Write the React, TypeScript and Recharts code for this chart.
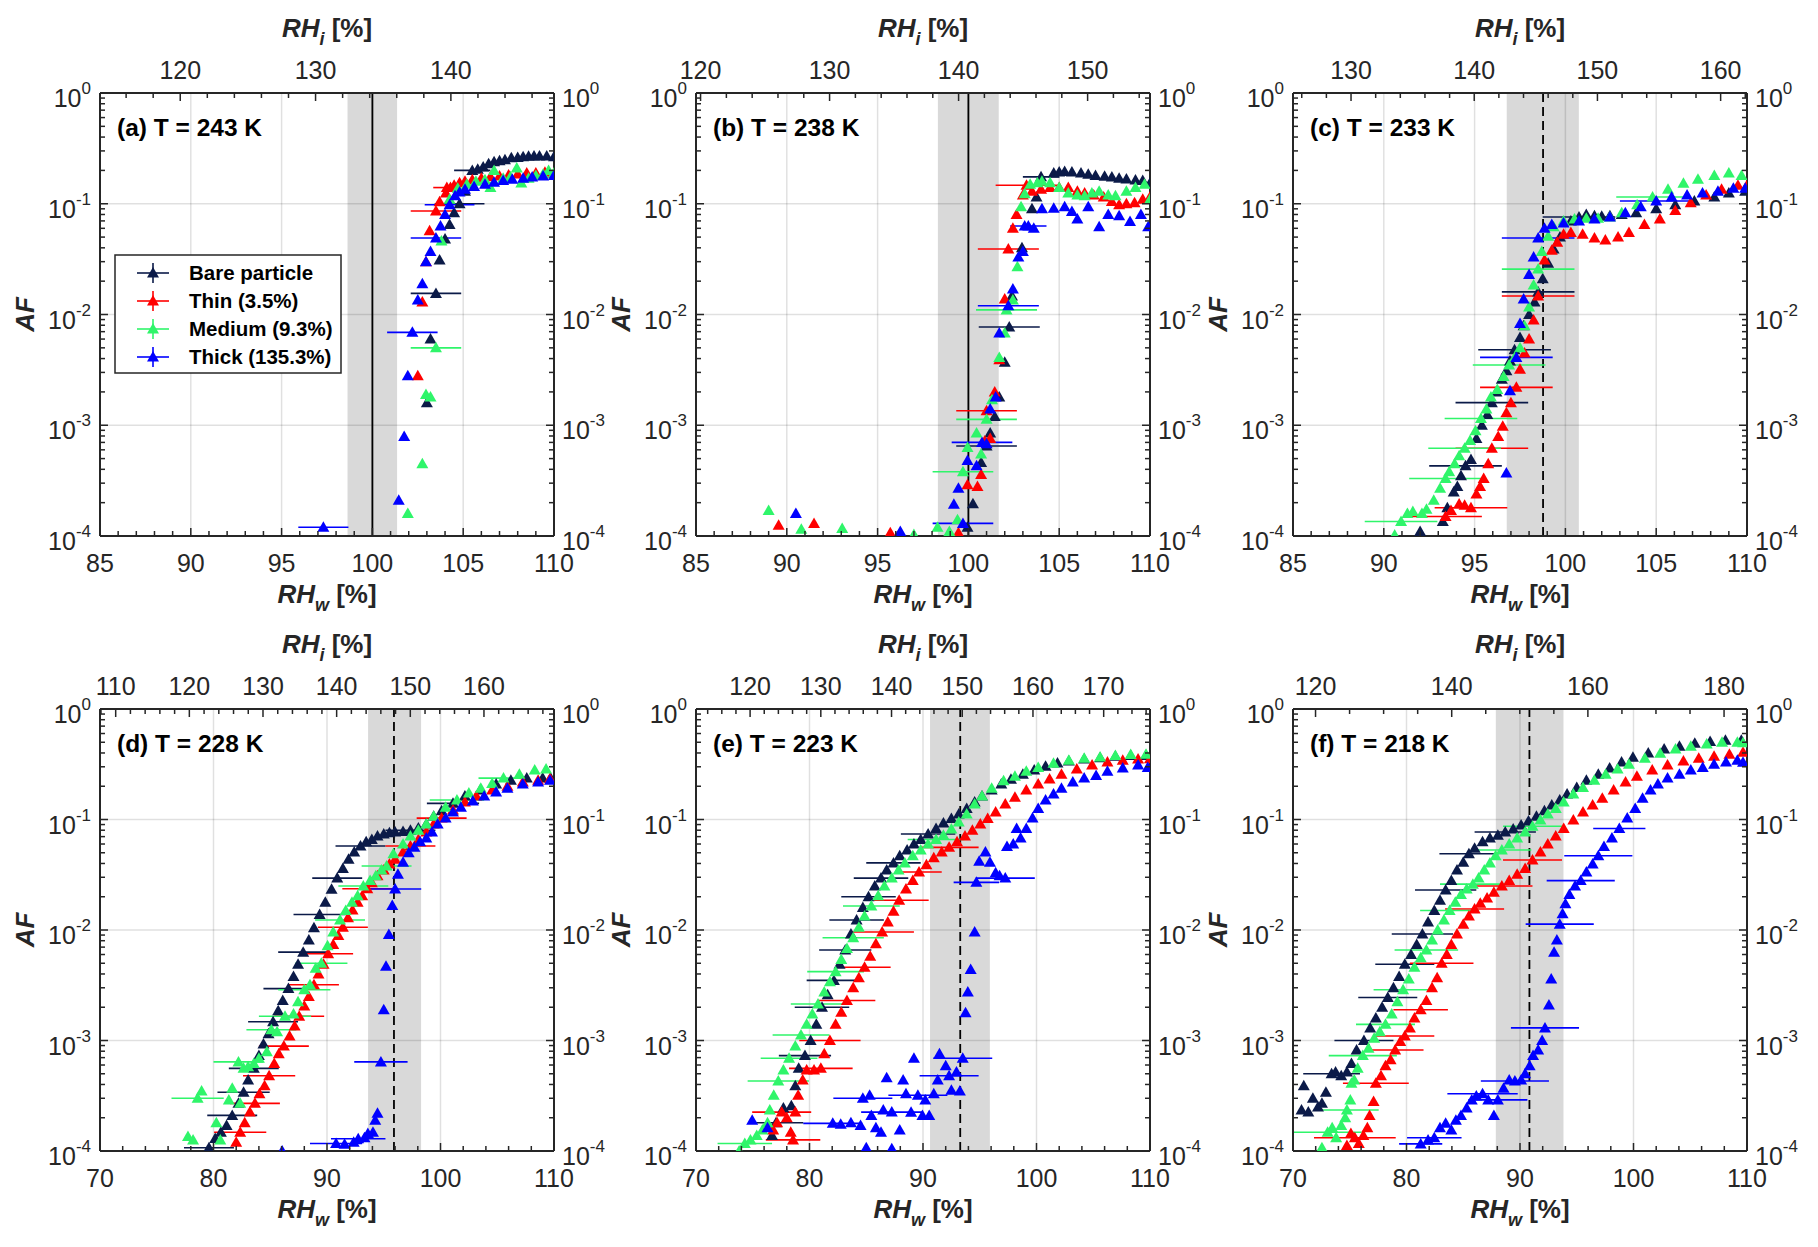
import React from "react";
import {
  ScatterChart,
  Scatter,
  XAxis,
  YAxis,
  ErrorBar,
  ReferenceArea,
  ReferenceLine,
} from "recharts";

type Pt = [number, number, number?];

// ---- series metadata ----
const seriesNames = ["Bare particle", "Thin (3.5%)", "Medium (9.3%)", "Thick (135.3%)"];
const seriesColors = ["#0b1a48", "#ff0000", "#2ff56a", "#0000ff"];

// ---- per panel settings ----
const panelLabels = [
  "(a) T = 243 K",
  "(b) T = 238 K",
  "(c) T = 233 K",
  "(d) T = 228 K",
  "(e) T = 223 K",
  "(f) T = 218 K",
];
const rhwDomains = [
  [85, 110],
  [85, 110],
  [85, 110],
  [70, 110],
  [70, 110],
  [70, 110],
];
// RH_i / RH_w at each temperature (top axis)
const iceRatios = [1.342, 1.4076, 1.474, 1.541, 1.605, 1.667];
const rhwMinorStep = [1, 1, 1, 2, 2, 2];
const rhwMajorStep = [5, 5, 5, 10, 10, 10];
const rhiMinorStep = [2, 2, 2, 2, 2, 5];
const rhiMajorStep = [10, 10, 10, 10, 10, 20];
const shadeRanges = [
  [98.63, 101.36],
  [98.32, 101.67],
  [96.77, 100.74],
  [93.62, 98.29],
  [90.62, 95.89],
  [87.87, 93.83],
];
const onsetLines = [100, 100, 98.77, 95.9, 93.28, 90.83];
const onsetDashed = [false, false, true, true, true, true];
const afDecades = [1e-4, 1e-3, 1e-2, 1e-1, 1];

// ---- data: [RH_w, AF, xerr] ----
const bareA: Pt[] = [
  [103.0, 1.6e-3], [103.2, 6e-3], [103.5, 0.0155, 1.39], [103.7, 0.031], [104.0, 0.048],
  [104.25, 0.065], [104.5, 0.083], [104.8, 0.1, 1.37], [105.1, 0.13], [105.5, 0.2, 1.0],
  [105.8, 0.205], [106.1, 0.215], [106.4, 0.23], [106.7, 0.24], [107.0, 0.245], [107.3, 0.25],
  [107.65, 0.26], [108.0, 0.262], [108.3, 0.266], [108.6, 0.268], [108.9, 0.27], [109.2, 0.27],
  [109.6, 0.27], [110.0, 0.266],
];
const thinA: Pt[] = [
  [102.5, 2.8e-3], [102.75, 0.013], [102.95, 0.03], [103.15, 0.057], [103.5, 0.086, 1.39],
  [103.7, 0.104], [104.1, 0.14, 0.75], [104.05, 0.125], [104.3, 0.14], [104.5, 0.147],
  [104.8, 0.155], [105.1, 0.16], [105.5, 0.165], [106.0, 0.17], [106.5, 0.175], [107.0, 0.178],
  [107.5, 0.182], [108.0, 0.186], [108.5, 0.19], [109.0, 0.19], [109.5, 0.192], [110.0, 0.188],
];
const medA: Pt[] = [
  [101.95, 1.6e-4], [102.75, 4.5e-4], [102.95, 1.9e-3], [103.2, 1.8e-3], [103.5, 5e-3, 1.39],
  [103.8, 0.046], [104.25, 0.11], [104.7, 0.138], [105.2, 0.15], [105.7, 0.16], [106.2, 0.165],
  [106.5, 0.14], [106.7, 0.2], [107.2, 0.17], [107.6, 0.175], [107.95, 0.21], [108.2, 0.154],
  [108.6, 0.17], [109.0, 0.18], [109.4, 0.185], [109.7, 0.2], [110.0, 0.19],
];
const thickA: Pt[] = [
  [97.3, 1.2e-4, 1.38], [101.45, 2.1e-4], [101.75, 7.9e-4], [101.95, 2.8e-3], [102.2, 6.9e-3, 1.39],
  [102.5, 0.0135], [102.75, 0.019], [102.95, 0.03], [103.2, 0.037], [103.5, 0.049, 1.39],
  [103.75, 0.063], [104.0, 0.08], [104.25, 0.098, 1.37], [104.55, 0.118], [104.8, 0.128],
  [105.1, 0.135], [105.6, 0.143], [106.2, 0.15], [106.7, 0.156], [107.2, 0.162], [107.7, 0.166],
  [108.3, 0.17], [108.8, 0.174], [109.4, 0.178], [110.0, 0.18],
];

const bareB: Pt[] = [
  [99.95, 1.2e-4], [100.25, 1.96e-4], [100.7, 4.6e-4], [101.0, 6.5e-4, 1.67], [101.2, 8.5e-4],
  [101.45, 1.2e-3], [101.7, 1.8e-3], [102.0, 3.7e-3], [102.25, 7.7e-3, 1.68], [102.4, 0.0147],
  [102.95, 0.04], [103.5, 0.09], [103.75, 0.115], [104.0, 0.175, 1.0], [104.7, 0.19],
  [105.0, 0.193], [105.3, 0.196], [105.7, 0.193], [106.2, 0.19], [106.6, 0.185], [107.0, 0.18],
  [107.5, 0.177], [107.9, 0.174], [108.3, 0.17], [108.7, 0.167], [109.2, 0.164], [109.6, 0.162],
  [110.0, 0.154],
];
const thinB: Pt[] = [
  [89.55, 1.25e-4], [91.5, 1.3e-4], [95.7, 1.07e-4], [99.45, 1.07e-4], [99.95, 2.9e-4],
  [100.5, 2.8e-4], [100.7, 3.6e-4], [100.9, 7.2e-4], [101.0, 1.35e-3, 1.67], [101.2, 7.6e-4],
  [101.45, 2e-3], [101.7, 3.9e-3], [102.0, 0.0138], [102.2, 0.039, 1.68], [102.45, 0.06],
  [102.65, 0.08], [103.0, 0.12], [103.2, 0.147, 1.7], [103.5, 0.13], [104.0, 0.135], [104.5, 0.14],
  [105.0, 0.14], [105.5, 0.14], [106.0, 0.13], [106.4, 0.125], [106.9, 0.12], [107.45, 0.115],
  [107.9, 0.105], [108.3, 0.098], [108.7, 0.1], [109.15, 0.102], [109.6, 0.11], [110.0, 0.115],
];
const medB: Pt[] = [
  [89.0, 1.7e-4], [90.8, 1.15e-4], [93.05, 1.17e-4], [97.0, 1.03e-4], [98.3, 1.2e-4],
  [98.95, 1.1e-4], [99.4, 1.4e-4], [99.7, 3.8e-4, 1.67], [99.95, 6.3e-4], [100.45, 8.5e-4],
  [100.7, 5.5e-4], [101.0, 1.13e-3, 1.67], [101.3, 1.7e-3], [101.7, 4.1e-3], [102.0, 6.8e-3],
  [102.1, 0.011, 1.68], [102.45, 0.0135], [102.7, 0.027], [102.9, 0.094], [103.1, 0.123],
  [103.4, 0.15], [103.8, 0.155], [104.05, 0.16], [104.5, 0.155], [105.0, 0.14], [105.5, 0.125],
  [106.0, 0.12], [106.4, 0.118], [106.8, 0.125], [107.2, 0.13], [107.7, 0.12], [108.1, 0.118],
  [108.7, 0.13], [109.2, 0.14], [109.7, 0.15], [110.0, 0.11],
];
const thickB: Pt[] = [
  [90.5, 1.6e-4], [96.25, 1.1e-4], [99.2, 1.94e-4], [99.45, 2.7e-4], [99.7, 1.3e-4, 1.67],
  [99.95, 4.8e-4], [100.45, 4.3e-4], [100.75, 7e-4, 1.67], [101.0, 6.8e-4], [101.2, 1.4e-3],
  [101.5, 1.8e-3], [101.7, 6.8e-3], [102.2, 0.012, 1.68], [102.45, 0.017], [102.75, 0.033],
  [103.0, 0.037], [103.1, 0.063], [103.3, 0.063, 1.0], [103.6, 0.06], [104.05, 0.09],
  [104.7, 0.091], [105.3, 0.094], [105.7, 0.085], [106.0, 0.073], [106.6, 0.094], [107.2, 0.062],
  [107.7, 0.08], [108.3, 0.078], [108.9, 0.069], [109.5, 0.08], [109.9, 0.062],
];

const bareC: Pt[] = [
  [92.0, 1.1e-4], [93.25, 1.35e-4], [93.5, 1.8e-4], [93.85, 2.5e-4], [94.05, 2.8e-4],
  [94.25, 3.5e-4], [94.5, 4.3e-4, 2.0], [94.8, 4.9e-4], [95.1, 7.6e-4], [95.4, 1e-3],
  [95.7, 1.25e-3], [95.95, 1.6e-3, 2.0], [96.2, 2e-3], [96.5, 2.6e-3], [96.75, 3.1e-3],
  [96.95, 3.8e-3], [97.2, 4.8e-3, 2.0], [97.5, 6.2e-3], [97.7, 7.9e-3], [98.0, 0.01],
  [98.3, 0.013], [98.5, 0.016, 2.0], [98.75, 0.021], [99.05, 0.029], [99.35, 0.039], [99.7, 0.05],
  [100.3, 0.07], [100.75, 0.076, 2.0], [101.15, 0.08], [101.6, 0.078], [102.0, 0.077],
  [102.45, 0.078], [103.1, 0.08], [103.9, 0.083], [105.0, 0.09], [106.05, 0.098], [107.1, 0.106],
  [108.2, 0.115], [109.0, 0.125], [109.9, 0.13],
];
const thinC: Pt[] = [
  [93.4, 1.5e-4, 2.0], [93.7, 1.7e-4], [94.15, 1.95e-4], [94.45, 1.9e-4], [94.8, 1.8e-4, 2.0],
  [95.1, 2.4e-4], [95.3, 2.8e-4], [95.5, 3.3e-4], [95.75, 4.5e-4], [95.95, 6.2e-4, 2.0],
  [96.3, 7.9e-4], [96.55, 9.8e-4], [96.75, 1.3e-3], [97.0, 1.6e-3], [97.3, 2.2e-3, 2.0],
  [97.5, 3.2e-3], [97.75, 4.5e-3], [98.0, 6e-3], [98.25, 8.9e-3], [98.5, 0.0147, 2.0],
  [98.85, 0.031], [99.25, 0.038], [99.55, 0.045], [99.9, 0.053], [100.3, 0.055], [100.95, 0.053],
  [101.6, 0.049], [102.2, 0.047], [102.9, 0.05], [103.5, 0.055], [104.35, 0.065], [105.2, 0.073],
  [106.05, 0.087], [106.9, 0.102], [107.75, 0.12], [108.6, 0.135], [109.5, 0.147], [110.0, 0.147],
];
const medC: Pt[] = [
  [90.6, 1.02e-4], [90.95, 1.35e-4, 2.0], [91.3, 1.6e-4], [91.6, 1.66e-4], [92.1, 1.6e-4],
  [92.35, 1.74e-4], [92.75, 2.1e-4], [93.1, 2.7e-4], [93.4, 3.3e-4, 2.0], [93.6, 3.8e-4],
  [93.9, 4.5e-4], [94.15, 5.3e-4], [94.45, 6.2e-4, 2.0], [94.75, 7.3e-4], [95.05, 8.9e-4],
  [95.35, 1.15e-3, 2.0], [95.65, 1.4e-3], [95.9, 1.8e-3], [96.25, 2.1e-3], [96.6, 2.75e-3],
  [96.9, 3.5e-3, 2.0], [97.2, 4.1e-3], [97.5, 5e-3], [97.75, 7.9e-3], [98.0, 0.0117],
  [98.25, 0.0185], [98.5, 0.0257, 2.0], [98.7, 0.037], [99.05, 0.051], [99.35, 0.062],
  [99.9, 0.07], [100.5, 0.073], [101.15, 0.074], [101.8, 0.074], [102.45, 0.076], [103.1, 0.083],
  [103.95, 0.098], [104.8, 0.115, 2.0], [105.65, 0.135], [106.5, 0.153], [107.3, 0.166],
  [108.2, 0.18], [109.0, 0.19], [109.7, 0.18],
];
const thickC: Pt[] = [
  [96.75, 3.7e-4], [96.95, 2.05e-3], [97.3, 4.1e-3, 2.0], [97.5, 8.3e-3], [97.7, 0.0138],
  [98.0, 0.023], [98.25, 0.033], [98.5, 0.049, 2.0], [98.85, 0.06], [99.25, 0.065], [99.9, 0.067],
  [100.75, 0.07], [101.6, 0.073], [102.45, 0.076], [103.3, 0.083], [104.15, 0.094],
  [105.0, 0.106, 2.0], [105.85, 0.115], [106.7, 0.12], [107.55, 0.125], [108.4, 0.13],
  [109.25, 0.138], [109.9, 0.138],
];

const bareD: Pt[] = [
  [79.6, 1.07e-4, 2.2], [80.15, 1.3e-4], [80.65, 1.48e-4], [81.15, 1.7e-4], [81.65, 2.1e-4, 2.2],
  [82.2, 2.7e-4], [82.65, 3.4e-4, 2.3], [83.05, 4.4e-4], [83.55, 5.6e-4, 2.2], [84.0, 7.3e-4],
  [84.4, 9.3e-4], [84.85, 1.15e-3], [85.25, 1.48e-3, 2.2], [85.7, 1.86e-3], [86.1, 2.3e-3],
  [86.6, 2.95e-3, 2.2], [87.05, 3.8e-3], [87.45, 4.9e-3], [87.9, 6.3e-3, 2.2], [88.4, 8.1e-3],
  [88.85, 0.0105], [89.35, 0.0138, 2.3], [89.85, 0.0178], [90.4, 0.0234], [90.9, 0.0295, 2.2],
  [91.4, 0.036], [91.9, 0.0437], [92.4, 0.0507], [92.95, 0.0575, 2.2], [93.45, 0.063],
  [93.95, 0.066], [94.45, 0.071], [95.0, 0.074], [95.5, 0.076], [96.0, 0.077], [96.7, 0.078],
  [97.35, 0.08, 2.2], [98.05, 0.0836], [98.75, 0.091], [99.4, 0.107], [100.1, 0.12],
  [101.1, 0.14, 2.3], [102.15, 0.163], [103.5, 0.185], [104.9, 0.209], [106.2, 0.227],
  [107.6, 0.237], [109.0, 0.237], [109.7, 0.237],
];
const thinD: Pt[] = [
  [82.0, 1.2e-4], [82.35, 1.48e-4, 2.3], [82.75, 1.8e-4], [83.2, 2.25e-4], [83.65, 2.7e-4, 2.2],
  [84.05, 3.3e-4], [84.5, 3.9e-4], [84.9, 4.8e-4, 2.3], [85.35, 6.2e-4], [85.75, 7.6e-4],
  [86.2, 8.9e-4, 2.2], [86.7, 1.1e-3], [87.15, 1.35e-3], [87.55, 1.66e-3, 2.2], [88.0, 2.05e-3],
  [88.4, 2.5e-3], [88.85, 3.2e-3, 2.2], [89.25, 4e-3], [89.7, 4.9e-3], [90.1, 6.1e-3, 2.2],
  [90.55, 7.4e-3], [91.0, 8.9e-3], [91.4, 0.0106, 2.2], [91.85, 0.0129], [92.25, 0.0152],
  [92.7, 0.0178], [93.1, 0.0204], [93.55, 0.0236, 2.2], [93.95, 0.0268], [94.45, 0.031],
  [95.0, 0.035], [95.5, 0.0396], [96.0, 0.0437], [96.7, 0.0507], [97.35, 0.0575, 2.2],
  [98.05, 0.066], [98.75, 0.077], [99.4, 0.091], [100.1, 0.103, 2.2], [101.1, 0.122],
  [102.15, 0.144], [103.15, 0.163], [104.55, 0.185], [105.9, 0.2], [107.25, 0.218],
  [108.6, 0.227], [109.65, 0.235],
];
const medD: Pt[] = [
  [77.75, 1.35e-4], [78.2, 1.26e-4], [78.6, 3e-4, 2.3], [78.95, 3.5e-4], [80.25, 1.8e-4],
  [80.6, 1.26e-4], [81.35, 2.9e-4], [81.65, 3.7e-4], [82.35, 2.7e-4], [82.2, 6.4e-4, 2.2],
  [82.65, 5.6e-4], [83.05, 5.8e-4], [83.55, 6.2e-4], [84.0, 6.9e-4], [84.7, 7.9e-4],
  [85.1, 1.25e-3, 2.2], [85.6, 1.2e-3], [86.3, 1.66e-3, 2.3], [87.05, 1.74e-3], [87.45, 2.24e-3],
  [88.0, 2.88e-3, 2.3], [88.5, 3.2e-3], [89.0, 4.5e-3], [89.5, 5e-3, 2.3], [90.05, 7.2e-3],
  [90.55, 9.6e-3], [91.15, 0.0123, 2.2], [91.65, 0.015], [92.2, 0.0178], [92.7, 0.0204],
  [93.2, 0.025, 2.2], [93.8, 0.028], [94.3, 0.031], [94.8, 0.035], [95.25, 0.038, 2.2],
  [95.85, 0.049], [96.7, 0.06], [97.35, 0.071], [98.05, 0.08], [98.75, 0.091], [99.4, 0.107],
  [100.45, 0.129], [101.45, 0.15, 2.4], [102.5, 0.174], [103.55, 0.192], [104.55, 0.212],
  [105.55, 0.237, 2.2], [106.95, 0.257], [108.3, 0.28], [109.3, 0.287],
];
const thickD: Pt[] = [
  [86.05, 1e-4, 2.3], [90.8, 1.17e-4, 2.3], [91.55, 1.15e-4], [92.35, 1.2e-4], [92.75, 1.29e-4, 2.4],
  [93.3, 1.32e-4], [93.6, 1.44e-4], [94.05, 1.48e-4], [94.25, 1.9e-4], [94.45, 2.2e-4],
  [94.75, 6.4e-4, 2.35], [95.0, 1.9e-3], [95.2, 4.7e-3], [95.45, 9.1e-3], [95.75, 0.0167],
  [96.0, 0.0235, 2.3], [96.25, 0.032], [96.7, 0.041], [97.2, 0.05], [97.7, 0.056], [98.2, 0.063],
  [98.75, 0.068], [99.25, 0.077], [99.75, 0.091], [100.45, 0.103], [101.1, 0.117], [101.8, 0.129],
  [102.85, 0.147], [103.85, 0.163], [104.9, 0.177], [105.9, 0.192], [107.25, 0.209],
  [108.6, 0.218], [109.65, 0.227],
];

const bareE: Pt[] = [
  [76.7, 1.38e-4], [77.05, 1.8e-4, 2.4], [77.7, 2.45e-4], [78.4, 2.57e-4], [78.75, 3.9e-4],
  [79.05, 5.6e-4], [79.6, 7.3e-4, 2.3], [80.1, 1e-3], [80.6, 1.4e-3], [81.1, 2e-3, 2.4],
  [81.6, 2.6e-3], [82.15, 3.5e-3, 2.4], [82.65, 4.9e-3], [83.15, 6.6e-3, 2.3], [83.65, 9.2e-3],
  [84.15, 0.0123, 2.4], [84.7, 0.016], [85.2, 0.02, 2.4], [85.75, 0.025], [86.3, 0.0295, 2.4],
  [86.8, 0.035], [87.4, 0.0405, 2.4], [87.95, 0.047], [88.6, 0.053], [89.2, 0.06], [89.8, 0.066],
  [90.45, 0.074, 2.4], [91.15, 0.083], [91.8, 0.093], [92.5, 0.102], [93.15, 0.112],
  [93.85, 0.126], [94.55, 0.144], [95.2, 0.163], [96.05, 0.185], [96.9, 0.209], [97.75, 0.231],
  [98.8, 0.257], [99.8, 0.28], [100.8, 0.304], [101.85, 0.324], [102.85, 0.339], [104.2, 0.353],
  [105.6, 0.363], [106.95, 0.374], [108.3, 0.38], [109.65, 0.38],
];
const thinE: Pt[] = [
  [76.8, 1.55e-4], [77.15, 1.8e-4], [77.55, 2.25e-4, 2.6], [78.0, 2e-4], [78.35, 1.48e-4],
  [78.55, 1.26e-4, 2.4], [78.75, 2.25e-4], [79.0, 3.2e-4], [79.4, 4.4e-4], [79.75, 5.4e-4],
  [80.4, 5.4e-4], [81.0, 5.6e-4, 2.8], [81.3, 7.6e-4], [81.8, 1e-3, 2.7], [82.3, 1.4e-3],
  [82.8, 1.8e-3], [83.3, 2.3e-3, 2.5], [83.85, 3e-3], [84.35, 3.7e-3], [84.85, 4.6e-3, 2.3],
  [85.35, 5.8e-3], [85.85, 7.5e-3], [86.4, 9.6e-3, 2.8], [86.9, 0.0118], [87.4, 0.0148],
  [87.9, 0.0186, 2.6], [88.5, 0.0235], [89.1, 0.028], [89.65, 0.0335, 2.0], [90.3, 0.039],
  [90.95, 0.045], [91.65, 0.0507], [92.3, 0.056, 2.6], [93.0, 0.063], [93.7, 0.071],
  [94.35, 0.08], [95.05, 0.091], [95.7, 0.102], [96.4, 0.117], [97.25, 0.138], [98.1, 0.159],
  [99.1, 0.185], [100.15, 0.209], [101.15, 0.233], [102.2, 0.257], [103.55, 0.287],
  [104.9, 0.312], [106.25, 0.331], [107.6, 0.344], [108.95, 0.353], [110.0, 0.355],
];
const medE: Pt[] = [
  [73.8, 1e-4], [74.3, 1.17e-4, 2.4], [74.8, 1.26e-4], [75.35, 1.38e-4], [75.85, 1.55e-4],
  [76.3, 1.8e-4], [76.5, 2.35e-4], [76.85, 3.2e-4], [77.25, 4.3e-4, 2.7], [77.7, 5.4e-4],
  [78.2, 6.9e-4, 2.5], [78.75, 8.9e-4], [79.25, 1.12e-3, 2.5], [79.75, 1.4e-3], [80.25, 1.74e-3],
  [80.75, 2.14e-3, 2.4], [81.3, 2.75e-3], [81.8, 3.4e-3], [82.3, 4.2e-3, 2.5], [82.8, 5.4e-3],
  [83.3, 6.8e-3], [83.85, 8.5e-3, 2.7], [84.35, 0.0106], [84.85, 0.0134], [85.45, 0.0165, 2.5],
  [86.05, 0.0204], [86.6, 0.025], [87.25, 0.0295], [87.85, 0.035], [88.4, 0.0405], [89.1, 0.047],
  [89.8, 0.053], [90.45, 0.06], [91.15, 0.066, 2.5], [91.8, 0.072], [92.5, 0.082], [93.15, 0.095],
  [93.85, 0.112], [94.55, 0.138], [95.2, 0.163], [96.05, 0.192], [97.1, 0.224], [98.1, 0.246],
  [99.1, 0.273], [100.15, 0.296], [101.5, 0.323], [102.85, 0.344], [104.2, 0.359],
  [105.6, 0.368], [106.95, 0.38], [108.3, 0.387], [109.65, 0.39],
];
const thickE: Pt[] = [
  [74.95, 1.9e-4], [76.3, 1.62e-4], [82.05, 1.78e-4, 2.6], [82.75, 1.75e-4], [83.65, 1.8e-4],
  [84.5, 1.7e-4], [84.7, 3e-4, 2.6], [85.3, 3.2e-4], [85.0, 1.07e-4], [85.45, 2.1e-4],
  [85.85, 1.62e-4], [86.3, 1.48e-4], [86.5, 2.35e-4], [86.8, 4.6e-4], [87.25, 2.25e-4, 2.7],
  [87.25, 1.05e-4], [87.95, 1.55e-4], [88.25, 4.4e-4], [88.5, 3.3e-4], [88.95, 2.24e-4],
  [89.2, 6.9e-4], [89.55, 3.2e-4, 2.6], [89.95, 2.1e-4], [90.2, 2.9e-4], [90.55, 2.1e-4],
  [90.95, 3.3e-4], [91.3, 4.4e-4], [91.45, 7.6e-4], [92.0, 5.9e-4], [92.3, 4.8e-4, 2.6],
  [92.5, 3.55e-4], [92.95, 5.2e-4], [93.25, 3.5e-4], [93.5, 6.9e-4, 2.6], [93.75, 1.78e-3],
  [93.95, 2.75e-3], [94.2, 4.4e-3], [94.55, 9.6e-3], [94.7, 0.027, 2.0], [94.95, 0.042],
  [95.5, 0.0507], [95.9, 0.041], [96.4, 0.033], [96.75, 0.031], [97.25, 0.0295, 2.6],
  [97.4, 0.057], [97.95, 0.06], [98.25, 0.083], [98.6, 0.068], [99.1, 0.083], [99.65, 0.103],
  [100.15, 0.126], [100.8, 0.15], [101.5, 0.17], [102.2, 0.192], [103.2, 0.218], [104.2, 0.237],
  [105.25, 0.25], [106.25, 0.273], [107.6, 0.292], [108.95, 0.312], [109.8, 0.296],
];

const bareF: Pt[] = [
  [70.75, 2.35e-4], [70.95, 3.9e-4], [71.35, 2.25e-4], [71.75, 3e-4], [72.2, 2.5e-4],
  [72.55, 2.7e-4], [72.9, 3.4e-4], [73.4, 5e-4, 2.5], [73.75, 5.2e-4], [74.25, 4.8e-4],
  [74.75, 5.2e-4], [75.15, 6.2e-4], [75.6, 8.2e-4], [76.25, 1e-3, 2.6], [76.8, 1.3e-3],
  [77.3, 1.6e-3], [77.85, 2e-3], [78.35, 2.45e-3, 2.6], [78.85, 3e-3], [79.35, 3.8e-3],
  [79.85, 4.9e-3, 2.6], [80.4, 6e-3], [80.9, 7.4e-3], [81.4, 9.2e-3, 2.7], [81.9, 0.0118],
  [82.45, 0.015], [82.95, 0.0186], [83.45, 0.023, 2.7], [83.95, 0.028], [84.45, 0.035],
  [85.0, 0.041], [85.5, 0.049, 2.6], [86.0, 0.055], [86.7, 0.063], [87.35, 0.068], [88.05, 0.072],
  [88.7, 0.077, 2.7], [89.4, 0.082], [90.1, 0.089], [90.75, 0.097], [91.45, 0.107], [92.15, 0.12],
  [92.8, 0.135], [93.5, 0.15], [94.15, 0.17], [95.0, 0.195], [95.85, 0.227], [96.9, 0.257],
  [97.9, 0.292], [98.95, 0.331], [99.95, 0.365], [101.3, 0.4], [102.7, 0.435], [104.05, 0.461],
  [105.4, 0.49], [106.75, 0.509], [108.1, 0.522], [109.5, 0.522],
];
const thinF: Pt[] = [
  [74.75, 1.12e-4], [75.1, 1.44e-4], [75.45, 1.32e-4, 3.6], [75.8, 1.17e-4], [76.2, 1.38e-4],
  [76.55, 1.62e-4], [76.75, 2.1e-4], [77.1, 2.8e-4], [77.3, 4.1e-4, 2.9], [77.75, 4.8e-4],
  [78.15, 5.9e-4], [78.6, 6.7e-4], [79.0, 8.2e-4, 2.5], [79.45, 9.8e-4], [79.85, 1.1e-3, 2.6],
  [80.3, 1.3e-3], [80.7, 1.6e-3], [81.25, 1.9e-3, 2.4], [81.75, 2.3e-3], [82.25, 3e-3],
  [82.7, 3.7e-3], [83.1, 5e-3, 2.8], [83.55, 6e-3], [83.95, 7.4e-3], [84.45, 9.2e-3],
  [85.0, 0.0113], [85.5, 0.0134], [86.0, 0.0155, 2.6], [86.5, 0.0175], [87.1, 0.0195],
  [87.7, 0.022], [88.4, 0.025, 2.7], [89.05, 0.028], [89.75, 0.032], [90.45, 0.036],
  [91.1, 0.043, 2.6], [91.8, 0.0507], [92.45, 0.06], [93.15, 0.071], [93.85, 0.083], [94.7, 0.099],
  [95.55, 0.117], [96.4, 0.135], [97.25, 0.156], [98.25, 0.185], [99.3, 0.218], [100.3, 0.246],
  [101.65, 0.28], [103.0, 0.312], [104.4, 0.339], [105.75, 0.359], [107.1, 0.374],
  [108.45, 0.39], [109.65, 0.407],
];
const medF: Pt[] = [
  [72.55, 1.07e-4], [73.05, 1.48e-4, 3.0], [73.45, 1.62e-4], [73.8, 1.32e-4], [74.25, 1.7e-4],
  [74.6, 2e-4], [74.75, 2.35e-4, 2.8], [75.05, 2.9e-4], [75.15, 4.1e-4], [75.4, 4.4e-4],
  [75.7, 5.6e-4], [76.15, 7.3e-4, 3.0], [76.65, 8.5e-4], [77.15, 1.05e-3], [77.65, 1.2e-3],
  [78.15, 1.4e-3, 2.6], [78.7, 1.74e-3], [79.2, 2.24e-3], [79.7, 2.88e-3, 2.6], [80.2, 3.6e-3],
  [80.7, 4.6e-3], [81.25, 5.6e-3], [81.75, 6.6e-3, 2.8], [82.25, 8.1e-3], [82.75, 0.01],
  [83.3, 0.0123], [83.8, 0.015, 2.6], [84.3, 0.0178], [84.8, 0.021], [85.3, 0.0235],
  [85.85, 0.026, 2.9], [86.35, 0.0295], [86.85, 0.035], [87.35, 0.0405], [87.85, 0.047],
  [88.4, 0.053, 2.6], [89.05, 0.06], [89.75, 0.068], [90.45, 0.077], [91.1, 0.087, 2.6],
  [91.8, 0.099], [92.45, 0.112], [93.15, 0.126], [93.85, 0.144], [94.7, 0.17], [95.55, 0.195],
  [96.55, 0.227], [97.55, 0.257], [98.6, 0.287], [99.6, 0.316], [101.0, 0.359], [102.35, 0.397],
  [103.7, 0.435], [105.05, 0.461], [106.45, 0.481], [107.8, 0.501], [109.15, 0.5], [109.65, 0.495],
];
const thickF: Pt[] = [
  [81.25, 1.16e-4, 1.9], [81.9, 1.26e-4], [82.45, 1.32e-4, 2.4], [82.95, 1.62e-4], [83.45, 1.78e-4],
  [83.95, 1.55e-4], [84.35, 1.9e-4], [84.8, 2.1e-4], [85.3, 2.45e-4], [85.75, 2.9e-4],
  [86.15, 3.15e-4], [86.7, 3.3e-4, 3.1], [87.2, 2.9e-4], [87.7, 2.1e-4], [88.05, 2.9e-4, 2.6],
  [88.55, 3.7e-4], [89.05, 4.4e-4], [89.55, 4.3e-4, 3.0], [90.1, 4.4e-4], [90.45, 5e-4],
  [90.85, 5.9e-4], [91.15, 7.3e-4], [91.6, 8.2e-4], [91.95, 1e-3], [92.2, 1.3e-3, 3.0],
  [92.55, 2.1e-3], [92.75, 3.6e-3], [93.0, 6.3e-3], [93.25, 8.1e-3], [93.5, 0.0113, 3.0],
  [93.75, 0.014], [94.0, 0.0173], [94.35, 0.021], [94.85, 0.025], [95.35, 0.028, 3.0],
  [95.85, 0.0335], [96.4, 0.0396], [96.9, 0.047, 3.0], [97.4, 0.057], [98.1, 0.068],
  [98.75, 0.083, 2.3], [99.45, 0.103], [100.15, 0.126], [100.8, 0.156], [101.5, 0.185],
  [102.15, 0.209], [103.0, 0.237], [104.05, 0.257], [105.05, 0.28], [106.1, 0.296],
  [107.1, 0.316], [108.15, 0.331], [109.15, 0.344], [109.65, 0.33],
];

const panelSeries = [
  [bareA, thinA, medA, thickA],
  [bareB, thinB, medB, thickB],
  [bareC, thinC, medC, thickC],
  [bareD, thinD, medD, thickD],
  [bareE, thinE, medE, thickE],
  [bareF, thinF, medF, thickF],
];

// ---- layout ----
const INK = "#262626";
const FONT = "'Liberation Sans', Arial, Helvetica, sans-serif";
const colLeft = [100, 696, 1293];
const rowTop = [93, 709];
const rowPlotH = [443, 442];
const PLOT_W = 454;
const LEFT_W = 100;
const RIGHT_W = 90;
const TOP_H = 93;
const BOT_H = 80;
const TICK_FONT = 25;

const stepTicks = (lo: number, hi: number, step: number) => {
  const out: number[] = [];
  for (let v = Math.ceil(lo / step - 1e-9) * step; v <= hi + 1e-9; v += step) {
    out.push(Math.round(v * 1000) / 1000);
  }
  return out;
};

const logTicks = (() => {
  const out: number[] = [];
  afDecades.forEach((d, i) => {
    out.push(d);
    if (i < afDecades.length - 1) for (let m = 2; m <= 9; m++) out.push(m * d);
  });
  return out;
})();

const isDecade = (v: number) => {
  const e = Math.log10(v);
  return Math.abs(e - Math.round(e)) < 1e-6;
};

function YTick(props: any) {
  const { x, y, payload, side } = props;
  const v = payload.value;
  const major = isDecade(v);
  const len = major ? 8 : 5;
  const dir = side === "left" ? 1 : -1;
  const e = Math.round(Math.log10(v));
  return (
    <g>
      <line x1={x} x2={x + dir * len} y1={y} y2={y} stroke={INK} strokeWidth={1.5} />
      {major && (
        <text
          x={side === "left" ? x - 9 : x + 8}
          y={y + 14}
          textAnchor={side === "left" ? "end" : "start"}
          fontSize={TICK_FONT}
          fill={INK}
          fontFamily={FONT}
        >
          10
          <tspan dy={-13} fontSize={17}>
            {e}
          </tspan>
        </text>
      )}
    </g>
  );
}

function XTick(props: any) {
  const { x, y, payload, side, majorStep } = props;
  const v = payload.value;
  const major = Math.abs(v / majorStep - Math.round(v / majorStep)) < 1e-6;
  const len = major ? 8 : 5;
  const dir = side === "bottom" ? -1 : 1;
  return (
    <g>
      <line x1={x} x2={x} y1={y} y2={y + dir * len} stroke={INK} strokeWidth={1.5} />
      {major && (
        <text
          x={x}
          y={side === "bottom" ? y + 36 : y - 14}
          textAnchor="middle"
          fontSize={TICK_FONT}
          fill={INK}
          fontFamily={FONT}
        >
          {v}
        </text>
      )}
    </g>
  );
}

const triangleShape = (color: string) => (p: any) =>
  (
    <polygon
      points={`${p.cx},${p.cy - 6} ${p.cx - 6},${p.cy + 4.5} ${p.cx + 6},${p.cy + 4.5}`}
      fill={color}
    />
  );

function Panel({ idx }: { idx: number }) {
  const col = idx % 3;
  const row = Math.floor(idx / 3);
  const plotH = rowPlotH[row];
  const width = LEFT_W + PLOT_W + RIGHT_W;
  const height = TOP_H + plotH + BOT_H;
  const [lo, hi] = rhwDomains[idx];
  const iLo = lo * iceRatios[idx];
  const iHi = hi * iceRatios[idx];
  const bottomTicks = stepTicks(lo, hi, rhwMinorStep[idx]);
  const topTicks = stepTicks(iLo, iHi, rhiMinorStep[idx]);
  const gridX = stepTicks(lo, hi, rhwMajorStep[idx]);
  const [s1, s2] = shadeRanges[idx];
  const cx = LEFT_W + PLOT_W / 2;

  return (
    <div
      style={{
        position: "absolute",
        left: colLeft[col] - LEFT_W,
        top: rowTop[row] - TOP_H,
        width,
        height,
      }}
    >
      <ScatterChart width={width} height={height} margin={{ top: 0, right: 0, bottom: 0, left: 0 }}>
        <XAxis
          xAxisId="w"
          dataKey="x"
          type="number"
          orientation="bottom"
          domain={[lo, hi]}
          allowDataOverflow
          height={BOT_H}
          ticks={bottomTicks}
          interval={0}
          tickSize={0}
          tickMargin={0}
          tickLine={false}
          axisLine={{ stroke: INK, strokeWidth: 2 }}
          tick={<XTick side="bottom" majorStep={rhwMajorStep[idx]} />}
        />
        <XAxis
          xAxisId="i"
          dataKey="x"
          type="number"
          orientation="top"
          domain={[iLo, iHi]}
          allowDataOverflow
          height={TOP_H}
          ticks={topTicks}
          interval={0}
          tickSize={0}
          tickMargin={0}
          tickLine={false}
          axisLine={{ stroke: INK, strokeWidth: 2 }}
          tick={<XTick side="top" majorStep={rhiMajorStep[idx]} />}
        />
        <YAxis
          yAxisId="l"
          dataKey="y"
          type="number"
          scale="log"
          orientation="left"
          domain={[1e-4, 1]}
          allowDataOverflow
          width={LEFT_W}
          ticks={logTicks}
          interval={0}
          tickSize={0}
          tickMargin={0}
          tickLine={false}
          axisLine={{ stroke: INK, strokeWidth: 2 }}
          tick={<YTick side="left" />}
        />
        <YAxis
          yAxisId="r"
          dataKey="y"
          type="number"
          scale="log"
          orientation="right"
          domain={[1e-4, 1]}
          allowDataOverflow
          width={RIGHT_W}
          ticks={logTicks}
          interval={0}
          tickSize={0}
          tickMargin={0}
          tickLine={false}
          axisLine={{ stroke: INK, strokeWidth: 2 }}
          tick={<YTick side="right" />}
        />
        <ReferenceArea
          xAxisId="w"
          yAxisId="l"
          x1={s1}
          x2={s2}
          fill="#d9d9d9"
          fillOpacity={1}
          stroke="none"
        />
        {gridX.map((v) => (
          <ReferenceLine key={`gx${v}`} xAxisId="w" yAxisId="l" x={v} stroke="#000" strokeOpacity={0.12} strokeWidth={1.5} />
        ))}
        {afDecades.map((v) => (
          <ReferenceLine key={`gy${v}`} xAxisId="w" yAxisId="l" y={v} stroke="#000" strokeOpacity={0.12} strokeWidth={1.5} />
        ))}
        <ReferenceLine
          xAxisId="w"
          yAxisId="l"
          x={onsetLines[idx]}
          stroke="#000"
          strokeWidth={1.8}
          strokeDasharray={onsetDashed[idx] ? "9 5" : undefined}
        />
        {panelSeries[idx].map((pts, s) => (
          <Scatter
            key={seriesNames[s]}
            name={seriesNames[s]}
            xAxisId="w"
            yAxisId="l"
            data={pts.map(([x, y, ex]) => ({ x, y, ex: ex ?? 0 }))}
            fill={seriesColors[s]}
            shape={triangleShape(seriesColors[s])}
            isAnimationActive={false}
          >
            <ErrorBar dataKey="ex" direction="x" width={0} stroke={seriesColors[s]} strokeWidth={1.6} />
          </Scatter>
        ))}
      </ScatterChart>

      <svg
        width={width}
        height={height}
        style={{ position: "absolute", left: 0, top: 0, pointerEvents: "none", overflow: "visible" }}
        fontFamily={FONT}
        fill="#000"
      >
        <text x={LEFT_W + 17} y={TOP_H + 43} fontSize={24.5} fontWeight="bold">
          {panelLabels[idx]}
        </text>
        <text x={cx} y={TOP_H - 56} fontSize={26} fontWeight="bold" textAnchor="middle" fill={INK}>
          <tspan fontStyle="italic">RH</tspan>
          <tspan fontStyle="italic" fontSize={18} dy={8}>i</tspan>
          <tspan dy={-8}> [%]</tspan>
        </text>
        <text x={cx} y={TOP_H + plotH + 67} fontSize={26} fontWeight="bold" textAnchor="middle" fill={INK}>
          <tspan fontStyle="italic">RH</tspan>
          <tspan fontStyle="italic" fontSize={18} dy={8}>w</tspan>
          <tspan dy={-8}> [%]</tspan>
        </text>
        <text
          transform={`translate(${LEFT_W - 66}, ${TOP_H + plotH / 2}) rotate(-90)`}
          fontSize={26}
          fontWeight="bold"
          fontStyle="italic"
          textAnchor="middle"
          fill={INK}
        >
          AF
        </text>
        {idx === 0 && <LegendBox />}
      </svg>
    </div>
  );
}

function LegendBox() {
  const x0 = 115;
  const y0 = 255;
  const rows = [273, 301, 329, 357];
  return (
    <g>
      <rect x={x0} y={y0} width={226} height={118} fill="#fff" stroke={INK} strokeWidth={1.5} />
      {seriesNames.map((n, i) => (
        <g key={n}>
          <line x1={137} x2={169} y1={rows[i]} y2={rows[i]} stroke={seriesColors[i]} strokeWidth={1.6} />
          <line x1={153} x2={153} y1={rows[i] - 10} y2={rows[i] + 10} stroke={seriesColors[i]} strokeWidth={1.6} />
          <polygon
            points={`153,${rows[i] - 6} 147,${rows[i] + 4.5} 159,${rows[i] + 4.5}`}
            fill={seriesColors[i]}
          />
          <text x={189} y={rows[i] + 7} fontSize={20.5} fontWeight="bold" fill="#000">
            {n}
          </text>
        </g>
      ))}
    </g>
  );
}

export default function App() {
  return (
    <div
      style={{
        position: "absolute",
        left: 0,
        top: 0,
        width: 1818,
        height: 1247,
        background: "#fff",
        fontFamily: FONT,
      }}
    >
      {panelLabels.map((_, i) => (
        <Panel key={i} idx={i} />
      ))}
    </div>
  );
}
